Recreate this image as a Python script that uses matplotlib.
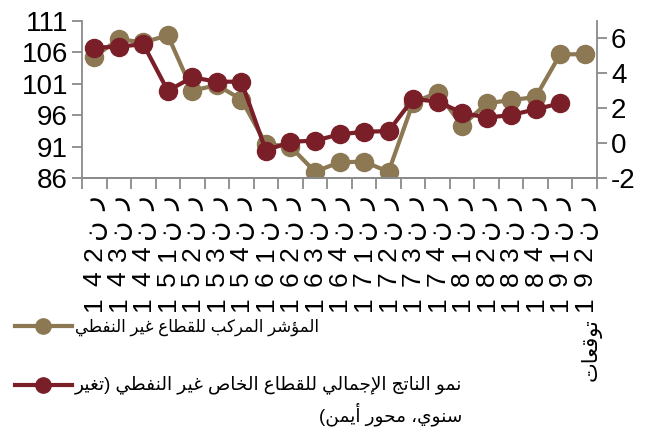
"""Composite index vs. non-oil private sector GDP growth (Arabic labels)."""

import re

import matplotlib

matplotlib.use("Agg")
import matplotlib.pyplot as plt
import numpy as np
from matplotlib.lines import Line2D

plt.rcParams["font.family"] = ["Liberation Sans", "DejaVu Sans"]
plt.rcParams["axes.unicode_minus"] = False

# ─── data ────────────────────────────────────────────────────────────────────

QUARTERS = ["2", "3", "4", "1", "2", "3", "4", "1", "2", "3", "4",
            "1", "2", "3", "4", "1", "2", "3", "4", "1", "2"]
YEARS = ["14", "14", "14", "15", "15", "15", "15", "16", "16", "16", "16",
         "17", "17", "17", "17", "18", "18", "18", "18", "19", "19"]
LABEL_PREFIX = "رن"   # stacked Arabic letters above each quarter

composite = [105.3, 108.1, 107.6, 108.7, 99.9, 100.8, 98.5, 91.4, 91.0, 87.0,
             88.5, 88.6, 87.0, 98.0, 99.6, 94.3, 97.9, 98.4, 98.9, 105.7, 105.7]
gdp_growth = [5.47, 5.53, 5.67, 3.0, 3.77, 3.52, 3.52, -0.43, 0.08, 0.14,
              0.5, 0.65, 0.69, 2.53, 2.38, 1.74, 1.46, 1.61, 1.94, 2.28]

LEGEND_1 = "المؤشر المركب للقطاع غير النفطي"
LEGEND_2A = "نمو الناتج الإجمالي للقطاع الخاص غير النفطي (تغير"
LEGEND_2B = "سنوي، محور أيمن)"
FORECAST = "توقعات"

TAN = "#8c7853"
RED = "#7a1f28"
GREY = "#8a8a8a"

# ─── minimal Arabic shaping (matplotlib draws no joined forms itself) ────────

_DUAL = {"ب": 0xFE8F, "ت": 0xFE95, "ث": 0xFE99, "ج": 0xFE9D, "ح": 0xFEA1,
         "خ": 0xFEA5, "س": 0xFEB1, "ش": 0xFEB5, "ص": 0xFEB9, "ض": 0xFEBD,
         "ط": 0xFEC1, "ظ": 0xFEC5, "ع": 0xFEC9, "غ": 0xFECD, "ف": 0xFED1,
         "ق": 0xFED5, "ك": 0xFED9, "ل": 0xFEDD, "م": 0xFEE1, "ن": 0xFEE5,
         "ه": 0xFEE9, "ي": 0xFEF1, "ئ": 0xFE89}
_RIGHT = {"ا": 0xFE8D, "أ": 0xFE83, "إ": 0xFE87, "آ": 0xFE81, "ؤ": 0xFE85,
          "ة": 0xFE93, "د": 0xFEA9, "ذ": 0xFEAB, "ر": 0xFEAD, "ز": 0xFEAF,
          "و": 0xFEED, "ى": 0xFEEF}
_LAMALEF = {"آ": 0xFEF5, "أ": 0xFEF7, "إ": 0xFEF9, "ا": 0xFEFB}


def _shape(text: str) -> str:
    units = []
    i = 0
    while i < len(text):
        c = text[i]
        if c == "ل" and i + 1 < len(text) and text[i + 1] in _LAMALEF:
            units.append(("LA", text[i + 1]))
            i += 2
        else:
            units.append(("C", c))
            i += 1

    def joins_next(u):
        return u[0] == "C" and u[1] in _DUAL

    def joins_prev(u):
        return u[0] == "LA" or u[1] in _DUAL or u[1] in _RIGHT

    out = []
    for k, u in enumerate(units):
        prev = units[k - 1] if k > 0 else None
        nxt = units[k + 1] if k + 1 < len(units) else None
        jp = prev is not None and joins_next(prev) and joins_prev(u)
        jn = nxt is not None and joins_next(u) and joins_prev(nxt)
        if u[0] == "LA":
            out.append(chr(_LAMALEF[u[1]] + (1 if jp else 0)))
        elif u[1] in _DUAL:
            off = 3 if (jp and jn) else 1 if jp else 2 if jn else 0
            out.append(chr(_DUAL[u[1]] + off))
        elif u[1] in _RIGHT:
            out.append(chr(_RIGHT[u[1]] + (1 if jp else 0)))
        else:
            out.append(u[1])
    return "".join(out)


def ar(text: str) -> str:
    """Logical Arabic → visual LTR string."""
    s = _shape(text)[::-1].translate(str.maketrans("()", ")("))
    return re.sub(r"[0-9A-Za-z.]+", lambda m: m.group(0)[::-1], s)


# ─── figure ──────────────────────────────────────────────────────────────────

W, H = 646, 432
PT = 72 / 100  # points per pixel
fig = plt.figure(figsize=(W / 100, H / 100), dpi=100)
ax = fig.add_axes([82 / W, 1 - 178 / H, (597 - 82) / W, (178 - 21) / H])
ax2 = ax.twinx()

x = np.arange(len(composite))
ax.plot(x, composite, color=TAN, lw=3, marker="o", ms=13, solid_joinstyle="round")
ax2.plot(np.arange(len(gdp_growth)), gdp_growth, color=RED, lw=3, marker="o",
         ms=13, solid_joinstyle="round")

ax.set_xlim(-0.5, len(QUARTERS) - 0.5)
ax.set_ylim(86, 111)
ax.set_yticks(np.arange(86, 112, 5))
ax2.set_ylim(-2, 7)
ax2.set_yticks(np.arange(-2, 7, 2))

# ticks sit on category boundaries; labels are stacked, each glyph turned 90°
ax.set_xticks(np.arange(-0.5, len(QUARTERS), 1))
ax.set_xticklabels([])
ax.tick_params(axis="x", length=8, width=1.3, color=GREY)
for i, (q, y) in enumerate(zip(QUARTERS, YEARS)):
    stack = [(c, 20) for c in LABEL_PREFIX] + [(q, 19), (y[1], 19), (y[0], 19)]
    for k, (ch, size) in enumerate(stack):
        ax.annotate(ch, xy=(i, 0), xycoords=("data", "axes fraction"),
                    xytext=(0, -(26 + 25 * k) * PT), textcoords="offset points",
                    rotation=90, ha="center", va="center", fontsize=size)

for a in (ax, ax2):
    a.spines["top"].set_visible(False)
    for side in ("left", "right", "bottom"):
        a.spines[side].set_color(GREY)
        a.spines[side].set_linewidth(1.3)
    a.tick_params(axis="y", length=7, width=1.3, color=GREY, labelsize=20, pad=3)
ax.spines["right"].set_visible(False)
ax2.spines["left"].set_visible(False)

# ─── legend, drawn by hand so the RTL text can wrap and align ────────────────


def _handle(y_px, color):
    fy = 1 - y_px / H
    fig.add_artist(Line2D(np.array([15, 43, 72]) / W, [fy] * 3, transform=fig.transFigure,
                          color=color, lw=3, marker="o", ms=11, markevery=[1]))


_handle(326, TAN)
_handle(385, RED)

fig.text(75 / W, 1 - 327 / H, ar(LEGEND_1), fontsize=12, ha="left", va="center")
fig.text(462 / W, 1 - 385 / H, ar(LEGEND_2A), fontsize=13.3, ha="right", va="center")
fig.text(462 / W, 1 - 414 / H, ar(LEGEND_2B), fontsize=13.3, ha="right", va="center")
fig.text(591 / W, 1 - 350 / H, ar(FORECAST), fontsize=15, rotation=90,
         ha="center", va="center")

fig.savefig("out.png", dpi=100)
